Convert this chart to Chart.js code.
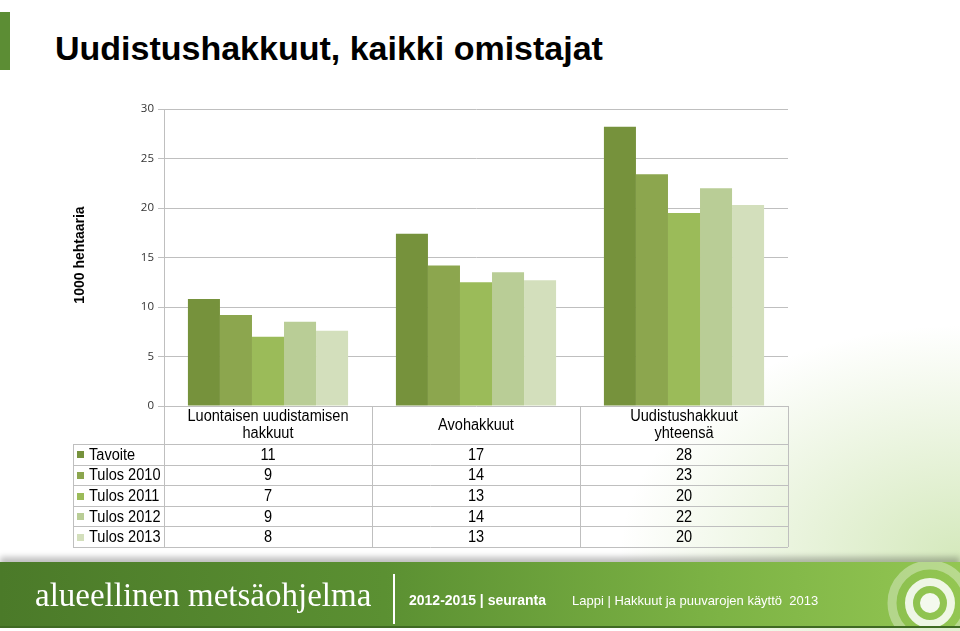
<!DOCTYPE html>
<html lang="fi">
<head>
    <meta charset="UTF-8">
    <title>Uudistushakkuut, kaikki omistajat</title>
    <script src="https://cdn.jsdelivr.net/npm/chart.js"></script>
    <style>
        body {
            margin: 0;
            width: 960px;
            height: 631px;
            overflow: hidden;
            position: relative;
            background: #fff;
            font-family: "Liberation Sans", Arial, sans-serif;
        }
        /* vaalea vihreä sävy oikeassa alakulmassa */
        #glow {
            position: absolute;
            left: 0; top: 0; width: 960px; height: 631px;
            background: radial-gradient(ellipse 340px 230px at 100% 88%, rgba(150, 200, 90, 0.4), rgba(150, 200, 90, 0) 100%);
        }
        #mark {
            position: absolute;
            left: 0; top: 12px;
            width: 10px; height: 58px;
            background: #5c8d34;
        }
        h1 {
            position: absolute;
            left: 55px; top: 28px;
            margin: 0;
            font: bold 34px "Liberation Sans", Arial, sans-serif;
            line-height: 40px;
            color: #000;
            white-space: nowrap;
        }
        #chartBox {
            position: absolute;
            left: 0; top: 95px;
            width: 800px; height: 460px;
        }
        #footer {
            position: absolute;
            left: 0; top: 562px;
            width: 960px; height: 64px;
            background: linear-gradient(to right, #4b7a29 0%, #5b9032 40%, #7db345 75%, #93c652 100%);
            box-shadow: 0 -5px 6px rgba(0, 0, 0, 0.25);
            border-bottom: 2px solid #3f6a22;
            overflow: hidden;
        }
        #logo {
            position: absolute;
            left: 35px; top: 15px;
            font: 33px "Liberation Serif", "DejaVu Serif", serif;
            color: #fff;
            white-space: nowrap;
        }
        #sep {
            position: absolute;
            left: 393px; top: 12px;
            width: 2px; height: 50px;
            background: #fff;
        }
        #period {
            position: absolute;
            left: 409px; top: 30px;
            font: bold 14px "Liberation Sans", Arial, sans-serif;
            color: #fff;
            white-space: nowrap;
        }
        #topic {
            position: absolute;
            left: 572px; top: 31px;
            font: 13px "Liberation Sans", Arial, sans-serif;
            color: #fff;
            white-space: nowrap;
        }
        #rings {
            position: absolute;
            left: 0; top: 0;
        }
    </style>
</head>
<body>
    <div id="glow"></div>
    <div id="mark"></div>
    <h1>Uudistushakkuut, kaikki omistajat</h1>

    <div id="chartBox"><canvas id="barChart"></canvas></div>

    <div id="footer">
        <svg id="rings" width="960" height="64">
            <circle cx="930" cy="41" r="38" fill="none" stroke="rgba(255,255,255,0.35)" stroke-width="9"/>
            <circle cx="930" cy="41" r="21" fill="none" stroke="rgba(255,255,255,0.85)" stroke-width="8"/>
            <circle cx="930" cy="41" r="10" fill="rgba(255,255,255,0.9)"/>
        </svg>
        <div id="logo">alueellinen metsäohjelma</div>
        <div id="sep"></div>
        <div id="period">2012-2015 | seuranta</div>
        <div id="topic">Lappi | Hakkuut ja puuvarojen käyttö&nbsp; 2013</div>
    </div>

    <script>
        // kategoriat (rivitetty taulukon otsikkoon)
        var categories = [
            ['Luontaisen uudistamisen', 'hakkuut'],
            ['Avohakkuut'],
            ['Uudistushakkuut', 'yhteensä']
        ];

        // sarjojen arvot luettu pylväistä (1000 ha)
        var seriesNames = ['Tavoite', 'Tulos 2010', 'Tulos 2011', 'Tulos 2012', 'Tulos 2013'];
        var tavoite   = [10.8, 17.4, 28.2];
        var tulos2010 = [9.2, 14.2, 23.4];
        var tulos2011 = [7.0, 12.5, 19.5];
        var tulos2012 = [8.5, 13.5, 22.0];
        var tulos2013 = [7.6, 12.7, 20.3];
        var seriesValues = [tavoite, tulos2010, tulos2011, tulos2012, tulos2013];

        // taulukossa näkyvät pyöristetyt luvut
        var tableValues = [
            [11, 17, 28],
            [9, 14, 23],
            [7, 13, 20],
            [9, 14, 22],
            [8, 13, 20]
        ];

        var yTicks = [0, 5, 10, 15, 20, 25, 30];
        var colors = ['#76923c', '#8ca64e', '#9bbb59', '#b9cd96', '#d3dfbc'];

        var gridColor = '#bfbfbf';
        var headerHeight = 38;
        var rowHeight = 20.6;
        var tableLeft = 73;
        var squeeze = 0.91;   // taulukon teksti on kapeaa

        function narrowText(ctx, text, x, y, align) {
            ctx.save();
            ctx.translate(x, y);
            ctx.scale(squeeze, 1);
            ctx.textAlign = align;
            ctx.fillText(text, 0, 0);
            ctx.restore();
        }

        // akselin otsikko ja datataulukko piirretään itse
        var tablePlugin = {
            id: 'dataTable',
            afterDraw: function (chart) {
                var ctx = chart.ctx;
                var area = chart.chartArea;
                var x = chart.scales.x;
                var colW = (area.right - area.left) / categories.length;
                var top = area.bottom;
                var bottom = top + headerHeight + rowHeight * seriesNames.length;

                ctx.save();

                // y-akselin otsikko
                ctx.save();
                ctx.translate(80, 160);
                ctx.rotate(-Math.PI / 2);
                ctx.font = 'bold 14px "Liberation Sans", Arial, sans-serif';
                ctx.fillStyle = '#000';
                ctx.textAlign = 'center';
                ctx.textBaseline = 'middle';
                ctx.fillText('1000 hehtaaria', 0, 0);
                ctx.restore();

                // ruudukko
                ctx.strokeStyle = gridColor;
                ctx.lineWidth = 1;
                ctx.beginPath();
                for (var c = 0; c <= categories.length; c++) {
                    var lx = Math.round(area.left + c * colW) + 0.5;
                    ctx.moveTo(lx, top);
                    ctx.lineTo(lx, bottom);
                }
                ctx.moveTo(tableLeft + 0.5, top + headerHeight);
                ctx.lineTo(tableLeft + 0.5, bottom);
                for (var r = 0; r <= seriesNames.length; r++) {
                    var ly = Math.round(top + headerHeight + r * rowHeight) + 0.5;
                    ctx.moveTo(tableLeft, ly);
                    ctx.lineTo(area.right, ly);
                }
                ctx.stroke();

                // otsikkorivi
                ctx.fillStyle = '#000';
                ctx.font = '16px "Liberation Sans", Arial, sans-serif';
                ctx.textBaseline = 'middle';
                categories.forEach(function (lines, i) {
                    var cx = x.getPixelForValue(i);
                    var cy = top + headerHeight / 2 - (lines.length - 1) * 8.5 + 0.5;
                    lines.forEach(function (t, k) {
                        narrowText(ctx, t, cx, cy + k * 17, 'center');
                    });
                });

                // sarjarivit
                seriesNames.forEach(function (name, r) {
                    var cy = top + headerHeight + r * rowHeight + rowHeight / 2 + 1;
                    ctx.fillStyle = colors[r];
                    ctx.fillRect(tableLeft + 4, Math.round(cy) - 4, 7, 7);
                    ctx.fillStyle = '#000';
                    narrowText(ctx, name, tableLeft + 16, cy, 'left');
                    tableValues[r].forEach(function (v, i) {
                        narrowText(ctx, String(v), x.getPixelForValue(i), cy, 'center');
                    });
                });

                ctx.restore();
            }
        };

        var ctxBar = document.getElementById('barChart').getContext('2d');
        new Chart(ctxBar, {
            type: 'bar',
            data: {
                labels: categories.map(function (c) { return c.join(' '); }),
                datasets: seriesNames.map(function (name, i) {
                    return {
                        label: name,
                        data: seriesValues[i],
                        backgroundColor: colors[i],
                        borderWidth: 0,
                        categoryPercentage: 0.77,
                        barPercentage: 1.0
                    };
                })
            },
            options: {
                responsive: true,
                maintainAspectRatio: false,
                animation: false,
                layout: {
                    padding: { left: 0, right: 12, top: 14, bottom: 149 }
                },
                plugins: {
                    legend: { display: false },
                    tooltip: { enabled: false }
                },
                scales: {
                    x: {
                        display: false
                    },
                    y: {
                        min: 0,
                        max: 30,
                        afterBuildTicks: function (scale) {
                            scale.ticks = yTicks.map(function (v) { return { value: v }; });
                        },
                        afterFit: function (scale) {
                            scale.width = 164;
                        },
                        grid: {
                            color: gridColor,
                            tickLength: 6,
                            drawTicks: true
                        },
                        border: {
                            display: true,
                            color: gridColor
                        },
                        ticks: {
                            color: '#333333',
                            padding: 4,
                            font: { family: '"Open Sans", "Liberation Sans", sans-serif', size: 11.5 }
                        }
                    }
                }
            },
            plugins: [tablePlugin]
        });
    </script>
</body>
</html>
